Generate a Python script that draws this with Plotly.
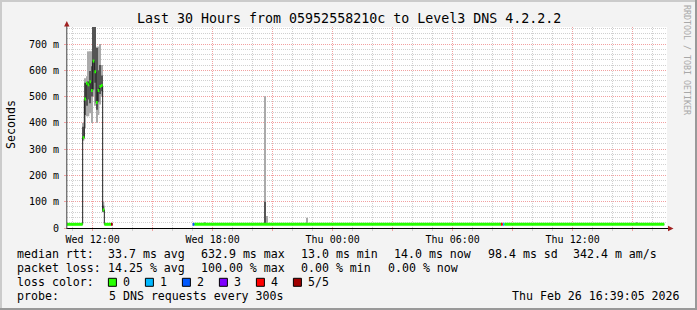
import pandas as pd
import plotly.graph_objects as go

# ---------------- data ----------------
T_START = "2026-02-25 10:43:00"
T_END = "2026-02-26 16:43:00"
Y_MAX = 764.7

title_text = "Last 30 Hours from 05952558210c to Level3 DNS 4.2.2.2"

# flat median segments (start, end, median ms, loss count of 5)
base_start = ["2026-02-25 10:43", "2026-02-25 12:35", "2026-02-25 12:55", "2026-02-25 17:00",
              "2026-02-25 17:05", "2026-02-26 08:25", "2026-02-26 08:30", "2026-02-26 08:35"]
base_end = ["2026-02-25 11:30", "2026-02-25 12:55", "2026-02-25 13:00", "2026-02-25 17:05",
            "2026-02-26 08:25", "2026-02-26 08:30", "2026-02-26 08:35", "2026-02-26 16:35"]
base_median = [14, 14, 14, 14, 14, 14, 14, 14]
base_loss = [0, 0, 5, 2, 0, 4, 1, 0]

# 5-minute steps of the morning spike
spike_time = ["2026-02-25 11:30", "2026-02-25 11:35", "2026-02-25 11:40", "2026-02-25 11:45",
              "2026-02-25 11:50", "2026-02-25 11:55", "2026-02-25 12:00", "2026-02-25 12:05",
              "2026-02-25 12:10", "2026-02-25 12:15", "2026-02-25 12:20", "2026-02-25 12:25",
              "2026-02-25 12:30"]
spike_median = [344, 491, 551, 545, 556, 523, 635, 594, 477, 523, 538, 542, 69]
spike_loss = [0, 0, 0, 0, 0, 0, 0, 0, 0, 0, 0, 0, 0]

# smoke (ping spread) per step
smoke_time = spike_time + ["2026-02-25 17:35", "2026-02-25 20:35", "2026-02-25 20:40",
                           "2026-02-25 22:40", "2026-02-26 15:10"]
smoke_light_lo = [332, 380, 425, 425, 437, 399, 502, 465, 400, 430, 470, 500, 60, 14, 14, 14, 14, 14]
smoke_light_hi = [400, 570, 577, 672, 672, 672, 780, 780, 690, 690, 700, 620, 100, 23, 501, 46, 39, 23]
smoke_dark_lo = [338, 430, 465, 489, 475, 500, 527, 553, 450, 480, 510, 520, 62, None, 14, None, None, None]
smoke_dark_hi = [385, 553, 553, 558, 597, 615, 780, 780, 685, 600, 620, 580, 85, None, 100, None, None, None]

STEP = "5min"

y_tickvals = [0, 100, 200, 300, 400, 500, 600, 700]
y_ticktext = ["0", "100 m", "200 m", "300 m", "400 m", "500 m", "600 m", "700 m"]

x_tickvals = ["2026-02-25 12:00", "2026-02-25 15:00", "2026-02-25 18:00", "2026-02-25 21:00",
              "2026-02-26 00:00", "2026-02-26 03:00", "2026-02-26 06:00", "2026-02-26 09:00",
              "2026-02-26 12:00", "2026-02-26 15:00"]
x_ticktext = ["Wed 12:00", "", "Wed 18:00", "", "Thu 00:00", "", "Thu 06:00", "", "Thu 12:00", ""]

loss_colors = ["#26ff00", "#00b8ff", "#0059ff", "#7e00ff", "#ff0000", "#a00000"]
loss_labels = ["0", "1", "2", "3", "4", "5/5"]

rtt_label = "median rtt:"
rtt_items = ["33.7 ms avg", "632.9 ms max", "13.0 ms min", "14.0 ms now", "98.4 ms sd", "342.4 m am/s"]
loss_label = "packet loss:"
loss_items = ["14.25 % avg", "100.00 % max", "0.00 % min", "0.00 % now"]
color_label = "loss color:"
probe_label = "probe:"
probe_text = "5 DNS requests every 300s"
stamp_text = "Thu Feb 26 16:39:05 2026"
side_text = "RRDTOOL / TOBI OETIKER"

# ---------------- geometry ----------------
FW, FH = 697, 310
L, T, W, H = 67, 27, 600, 201
FONT = "DejaVu Sans Mono"


def px(p):
    return (p - L) / W


def py(p):
    return (T + H - p) / H


step = pd.Timedelta(STEP)

# combine segments
segs = []
for s, e, m, l in zip(base_start, base_end, base_median, base_loss):
    segs.append((pd.Timestamp(s), pd.Timestamp(e), m, l))
for s, m, l in zip(spike_time, spike_median, spike_loss):
    segs.append((pd.Timestamp(s), pd.Timestamp(s) + step, m, l))
segs.sort(key=lambda r: r[0])

fig = go.Figure()

# smoke
st = [pd.Timestamp(t) for t in smoke_time]
wms = step.total_seconds() * 1000
fig.add_trace(go.Bar(
    x=st, base=smoke_light_lo,
    y=[h - l for l, h in zip(smoke_light_lo, smoke_light_hi)],
    width=[wms] * len(st), offset=0,
    marker=dict(color="#aaaaaa", line=dict(width=0)), hoverinfo="skip", showlegend=False))
dk = [(t, l, h) for t, l, h in zip(st, smoke_dark_lo, smoke_dark_hi) if l is not None]
fig.add_trace(go.Bar(
    x=[d[0] for d in dk], base=[d[1] for d in dk], y=[d[2] - d[1] for d in dk],
    width=[wms] * len(dk), offset=0,
    marker=dict(color="#555555", line=dict(width=0)), hoverinfo="skip", showlegend=False))

# median line (dark, stepped)
mx, my = [], []
prev_end = None
for s, e, m, l in segs:
    if prev_end is not None and s != prev_end:
        mx += [prev_end, None]
        my += [prev_m, None]
    mx.append(s)
    my.append(m)
    prev_end, prev_m = e, m
mx.append(prev_end)
my.append(prev_m)
fig.add_trace(go.Scatter(x=mx, y=my, mode="lines", line=dict(color="#202020", width=1, shape="hv"),
                         connectgaps=False, hoverinfo="skip", showlegend=False))

# loss-coloured median boxes
for li, col in enumerate(loss_colors):
    xs, ys = [], []
    for s, e, m, l in segs:
        if l == li:
            xs += [s, e, None]
            ys += [m, m, None]
    if xs:
        fig.add_trace(go.Scatter(x=xs, y=ys, mode="lines", line=dict(color=col, width=3),
                                 hoverinfo="skip", showlegend=False))

grid_major = "#f2a0a0"
grid_minor = "#d0d0d0"

fig.update_layout(
    width=FW, height=FH,
    margin=dict(l=L, r=FW - L - W, t=T, b=FH - T - H),
    paper_bgcolor="#f3f3f3", plot_bgcolor="#ffffff",
    barmode="overlay", showlegend=False,
    font=dict(family=FONT, color="#000000"),
    xaxis=dict(type="date", range=[T_START, T_END], tickmode="array",
               tickvals=x_tickvals, ticktext=x_ticktext,
               showgrid=True, gridcolor=grid_major, griddash="1px,1px", gridwidth=1,
               ticks="outside", ticklen=2, tickcolor=grid_major,
               tickfont=dict(family=FONT, size=10, color="#000"),
               minor=dict(dtick=3600000, tick0="2026-02-25 00:00", showgrid=True,
                          gridcolor=grid_minor, griddash="1px,1px", ticks="outside",
                          ticklen=2, tickcolor=grid_minor),
               showline=False, zeroline=False, fixedrange=True),
    yaxis=dict(range=[0, Y_MAX], tickmode="array", tickvals=y_tickvals, ticktext=y_ticktext,
               showgrid=True, gridcolor=grid_major, griddash="1px,1px",
               ticks="outside", ticklen=2, tickcolor=grid_major,
               tickfont=dict(family=FONT, size=10, color="#000"),
               minor=dict(tickmode="linear", tick0=0, dtick=20, showgrid=True,
                          gridcolor=grid_minor, griddash="1px,1px"),
               showline=False, zeroline=False, fixedrange=True, ticklabelstandoff=3),
)

shapes = []
# frame
shapes.append(dict(type="rect", xref="paper", yref="paper", x0=px(0), x1=px(FW), y0=py(0), y1=py(2),
                   fillcolor="#cbcbcb", line=dict(width=0), layer="above"))
shapes.append(dict(type="rect", xref="paper", yref="paper", x0=px(0), x1=px(2), y0=py(0), y1=py(FH),
                   fillcolor="#cbcbcb", line=dict(width=0), layer="above"))
shapes.append(dict(type="rect", xref="paper", yref="paper", x0=px(0), x1=px(FW), y0=py(FH - 2), y1=py(FH),
                   fillcolor="#999999", line=dict(width=0), layer="above"))
shapes.append(dict(type="rect", xref="paper", yref="paper", x0=px(FW - 2), x1=px(FW), y0=py(0), y1=py(FH),
                   fillcolor="#999999", line=dict(width=0), layer="above"))
# axes
shapes.append(dict(type="line", xref="paper", yref="paper", x0=px(66.5), x1=px(669), y0=py(228.5), y1=py(228.5),
                   line=dict(color="#000000", width=1), layer="above"))
shapes.append(dict(type="line", xref="paper", yref="paper", x0=px(66.8), x1=px(66.8), y0=py(229), y1=py(24),
                   line=dict(color="#404040", width=1), layer="above"))
arrow_col = "#a02020"
shapes.append(dict(type="path", xref="paper", yref="paper",
                   path=f"M {px(668)},{py(225.8)} L {px(673.5)},{py(228.5)} L {px(668)},{py(231.2)} Z",
                   fillcolor=arrow_col, line=dict(width=0), layer="above"))
shapes.append(dict(type="path", xref="paper", yref="paper",
                   path=f"M {px(64.1)},{py(26.5)} L {px(66.8)},{py(21)} L {px(69.5)},{py(26.5)} Z",
                   fillcolor=arrow_col, line=dict(width=0), layer="above"))

ann = []
LF = dict(family=FONT, size=11.6, color="#000000")


def text(x, y, s, anchor="left", font=LF, angle=0):
    ann.append(dict(x=px(x), y=py(y), xref="paper", yref="paper", text=s, showarrow=False,
                    xanchor=anchor, yanchor="middle", font=font, borderpad=0, textangle=angle))


text(348.5, 18.5, title_text, anchor="center", font=dict(family=FONT, size=13.3, color="#000"))
text(11, 125, "Seconds", anchor="center", angle=-90)
text(687, 60, side_text, anchor="center", font=dict(family=FONT, size=8.3, color="#a8a8a8"), angle=90)

col_x = [107, 200, 300, 393, 487, 572]
text(16.4, 254.3, rtt_label)
for xx, s in zip(col_x, rtt_items):
    text(xx, 254.3, s)
text(16.4, 268.3, loss_label)
for xx, s in zip([107, 200, 300, 386.7], loss_items):
    text(xx, 268.3, s)
text(16.4, 282.3, color_label)
for i, (c, lab) in enumerate(zip(loss_colors, loss_labels)):
    bx = 108.4 + 37 * i
    shapes.append(dict(type="rect", xref="paper", yref="paper", x0=px(bx), x1=px(bx + 8),
                       y0=py(278.3), y1=py(286.3), fillcolor=c,
                       line=dict(color="#000000", width=1), layer="above"))
    text(bx + 13.6, 282.3, lab)
text(16.4, 296, probe_label)
text(107.5, 296, probe_text)
text(680.5, 296, stamp_text, anchor="right")

fig.update_layout(shapes=shapes, annotations=ann)
fig.write_html("out.html")
